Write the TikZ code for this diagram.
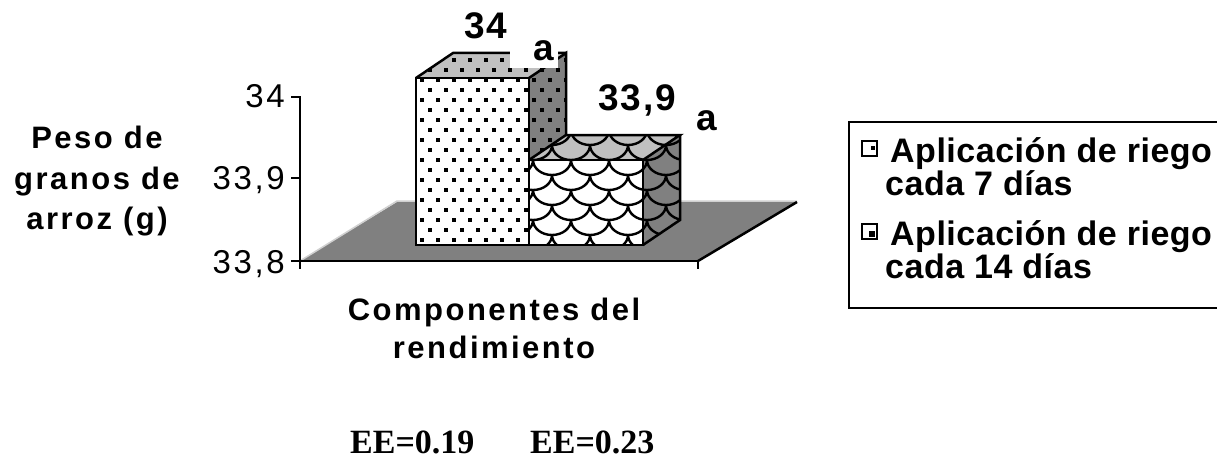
\documentclass[tikz,border=0pt]{standalone}
\usepackage{fontspec}
\setmainfont{Liberation Sans}
\newfontfamily\axfont[LetterSpace=8]{Liberation Sans}
\newfontfamily\tickfont[LetterSpace=8]{Liberation Sans}
\newfontfamily\legfont[LetterSpace=1.5]{Liberation Sans}
\newfontfamily\barfont[LetterSpace=5]{Liberation Sans}
\newfontfamily\eefont{Liberation Serif}
\definecolor{floorgray}{HTML}{808080}
\definecolor{topgray}{HTML}{C0C0C0}
\definecolor{sidegray}{HTML}{808080}
\definecolor{edgelight}{HTML}{D0D0D0}
\tikzset{
  axisline/.style={line width=2.5pt, line cap=rect},
  barline/.style={line width=2.5pt, line join=miter},
  axtitle/.style={font=\fontsize{31}{31}\axfont\bfseries, inner sep=0pt, anchor=base},
  ticklbl/.style={font=\fontsize{33}{33}\tickfont, inner sep=0pt, anchor=base east},
  barlbl/.style={font=\fontsize{37}{37}\barfont\bfseries, inner sep=0pt, anchor=base},
  leglbl/.style={font=\fontsize{34}{34}\legfont\bfseries, inner sep=0pt, anchor=base west},
  eelbl/.style={font=\fontsize{34}{34}\eefont\bfseries, inner sep=0pt, anchor=base west},
  legsym/.style={draw, line width=1.8pt, fill=white}
}
\begin{document}
\begin{tikzpicture}[x=1pt,y=-1pt]
\useasboundingbox (0,0) rectangle (1217,468);
\fill[white] (0,0) rectangle (1217,468);

% floor
\fill[floorgray] (300,261) -- (397,202) -- (797,202) -- (698,261) -- cycle;
\draw[edgelight, line width=1.5pt] (300,261) -- (397,201) -- (797,201);
\draw[line width=2.5pt] (698,261) -- (797,202);

% axes
\draw[axisline] (300,97) -- (300,268);
\draw[axisline] (292,97) -- (300,97);
\draw[axisline] (292,178) -- (300,178);
\draw[axisline] (292,261) -- (698,261);
\draw[axisline] (698,261) -- (698,268);

% bar 1 (dots)
\fill[sidegray] (529,78) -- (566,53) -- (566,220) -- (529,245) -- cycle;
\fill[topgray] (416,78) -- (529,78) -- (566,53) -- (453,53) -- cycle;
\fill[white] (416,78) rectangle (529,245);
\begin{scope}
  \clip (416,245) -- (416,78) -- (453,53) -- (566,53) -- (566,220) -- (529,245) -- cycle;
  \foreach \j in {0,...,20}{
    \pgfmathsetmacro{\off}{mod(\j,2)*8}
    \foreach \i in {0,...,10}{
      \fill ({412+\i*16+\off},{48+\j*10}) rectangle ++(4,4);
    }
  }
\end{scope}
\draw[barline] (529,78) -- (566,53) -- (566,220);
\draw[barline] (416,78) -- (453,53) -- (566,53);
\draw[barline] (416,78) rectangle (529,245);

% bar 2 (scales)
\fill[topgray] (529,160) -- (643,160) -- (680,135) -- (566,135) -- cycle;
\fill[sidegray] (643,160) -- (680,135) -- (680,220) -- (643,245) -- cycle;
\fill[white] (529,160) rectangle (643,245);
\begin{scope}
  \clip (529,245) -- (529,160) -- (566,135) -- (680,135) -- (680,220) -- (643,245) -- cycle;
  \foreach \j in {0,...,8}{
    \pgfmathsetmacro{\off}{mod(\j,2)*19}
    \foreach \i in {0,...,5}{
      \draw[line width=2.4pt] ({495+\i*38+\off},{130+\j*15}) arc[start angle=180, end angle=0, x radius=19, y radius=15];
    }
  }
\end{scope}
\draw[barline] (529,160) -- (566,135) -- (680,135) -- (643,160);
\draw[barline] (680,135) -- (680,220) -- (643,245);
\draw[barline] (529,160) rectangle (643,245);

% white label backing and labels
\fill[white] (510,36) rectangle (558,68);
\node[barlbl] (v1) at (486,39) {34};
\node[barlbl] (a1) at (544,61) {a};
\node[barlbl] (v2) at (637,111) {33,9};
\node[barlbl] (a2) at (707,131) {a};

% tick labels
\node[ticklbl] (t34) at (285,108) {34};
\node[ticklbl] (t339) at (285,189) {33,9};
\node[ticklbl] (t338) at (285,273) {33,8};

% axis titles
\node[axtitle] (yt1) at (97,148) {Peso de};
\node[axtitle] (yt2) at (97,189) {granos de};
\node[axtitle] (yt3) at (97,229) {arroz (g)};
\node[axtitle] (xt1) at (494,320) {Componentes del};
\node[axtitle] (xt2) at (494,358) {rendimiento};

% legend
\draw[line width=2.5pt] (1230,122) -- (849,122) -- (849,308) -- (1230,308);
\draw[legsym] (862,141) rectangle (877,156);
\fill (871,146) rectangle (875,150);
\draw[legsym] (862,224) rectangle (877,239);
\fill (869,231) rectangle (875,237);
\node[leglbl] (l1a) at (890,162) {Aplicación de riego};
\node[leglbl] (l1b) at (885,195) {cada 7 días};
\node[leglbl] (l2a) at (890,245) {Aplicación de riego};
\node[leglbl] (l2b) at (885,278) {cada 14 días};

% EE
\node[eelbl] (ee1) at (350,453) {EE=0.19};
\node[eelbl] (ee2) at (530,453) {EE=0.23};
\end{tikzpicture}
\end{document}
